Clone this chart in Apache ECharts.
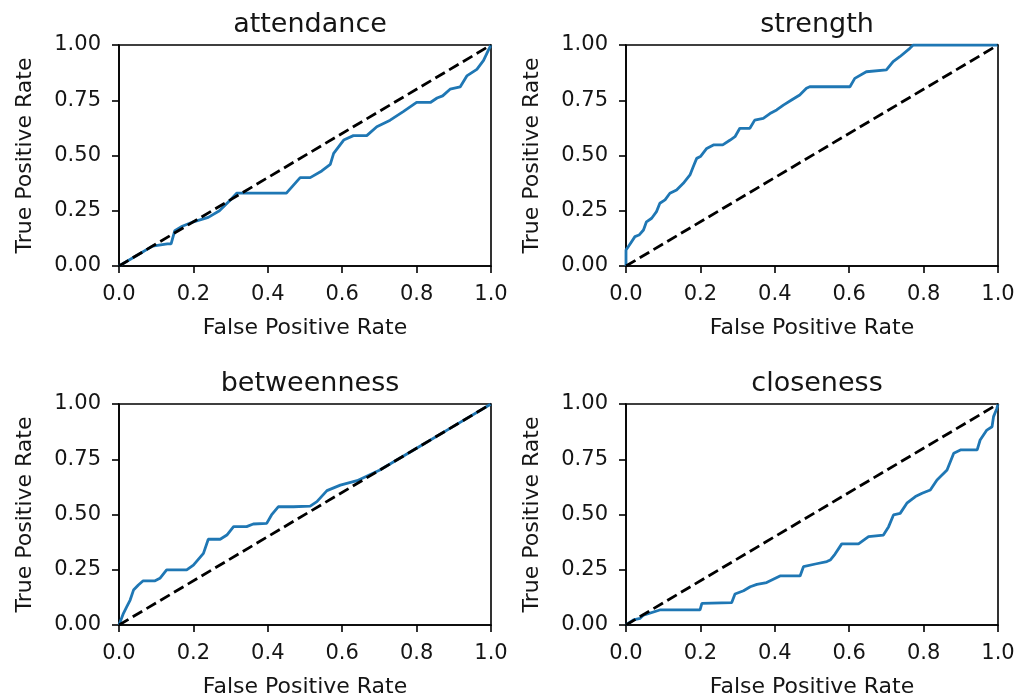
<!DOCTYPE html>
<html>
<head>
<meta charset="utf-8">
<script src="https://cdn.jsdelivr.net/npm/echarts@6/dist/echarts.min.js"></script>
<style>html,body{margin:0;padding:0;background:#fff}#c{width:1018px;height:699px}</style>
</head>
<body>
<div id="c"></div>
<script>
const panelTitles = ['attendance', 'strength', 'betweenness', 'closeness'];
const xTicks = [0, 0.2, 0.4, 0.6, 0.8, 1.0];
const yTicks = [0, 0.25, 0.5, 0.75, 1.0];
const diagX = [0, 1];
const diagY = [0, 1];

const attendanceFpr = [0,0.05,0.09,0.13,0.14,0.15,0.17,0.20,0.24,0.27,0.30,0.317,0.45,0.487,0.514,0.545,0.568,0.577,0.604,0.63,0.666,0.693,0.729,0.765,0.80,0.837,0.855,0.87,0.89,0.917,0.935,0.962,0.98,0.994,1.0];
const attendanceTpr = [0,0.05,0.09,0.10,0.10,0.16,0.18,0.20,0.22,0.25,0.30,0.33,0.33,0.40,0.40,0.43,0.46,0.51,0.57,0.59,0.59,0.63,0.66,0.70,0.74,0.74,0.76,0.77,0.80,0.81,0.86,0.89,0.93,0.98,1.0];

const strengthFpr = [0,0,0.011,0.024,0.035,0.047,0.055,0.069,0.082,0.091,0.105,0.118,0.136,0.154,0.172,0.181,0.19,0.20,0.217,0.235,0.26,0.28,0.293,0.306,0.333,0.346,0.369,0.387,0.405,0.423,0.445,0.467,0.485,0.494,0.602,0.615,0.646,0.70,0.718,0.736,0.763,0.772,0.843,1.0];
const strengthTpr = [0,0.072,0.10,0.133,0.14,0.163,0.20,0.216,0.246,0.284,0.299,0.329,0.344,0.374,0.412,0.45,0.487,0.495,0.532,0.548,0.548,0.57,0.585,0.623,0.623,0.66,0.668,0.69,0.706,0.728,0.751,0.774,0.804,0.811,0.811,0.849,0.879,0.887,0.925,0.947,0.985,1.0,1.0,1.0];

const betweennessFpr = [0,0.012,0.021,0.03,0.039,0.052,0.065,0.097,0.11,0.128,0.182,0.20,0.227,0.24,0.272,0.29,0.308,0.343,0.361,0.397,0.41,0.428,0.469,0.514,0.532,0.559,0.595,0.64,0.70,0.80,0.90,1.0];
const betweennessTpr = [0,0.053,0.083,0.113,0.158,0.181,0.20,0.20,0.211,0.249,0.249,0.271,0.324,0.388,0.388,0.407,0.445,0.445,0.457,0.46,0.498,0.535,0.535,0.538,0.558,0.608,0.633,0.653,0.70,0.80,0.90,1.0];

const closenessFpr = [0,0.02,0.038,0.047,0.091,0.199,0.204,0.284,0.293,0.316,0.334,0.352,0.378,0.396,0.414,0.468,0.477,0.509,0.54,0.549,0.562,0.58,0.625,0.652,0.692,0.706,0.719,0.737,0.755,0.778,0.796,0.818,0.836,0.863,0.881,0.899,0.944,0.952,0.97,0.984,0.988,0.997,1.0];
const closenessTpr = [0,0.023,0.03,0.045,0.068,0.068,0.098,0.101,0.14,0.155,0.173,0.184,0.192,0.207,0.222,0.222,0.264,0.276,0.287,0.294,0.321,0.367,0.367,0.40,0.407,0.445,0.498,0.505,0.551,0.581,0.596,0.611,0.656,0.701,0.777,0.792,0.792,0.837,0.882,0.897,0.943,0.98,1.0];

const curves = [
  [attendanceFpr, attendanceTpr],
  [strengthFpr, strengthTpr],
  [betweennessFpr, betweennessTpr],
  [closenessFpr, closenessTpr]
];

const FONT = 'DejaVu Sans';
const TXT = '#151515';
const lefts = [119, 626, 119, 626];
const tops = [45, 45, 404, 404];
const W = 372, H = 221;

const zip = (a, b) => a.map((v, i) => [v, b[i]]);

const grids = [], xAxes = [], yAxes = [], series = [], titles = [];
for (let i = 0; i < 4; i++) {
  grids.push({left: lefts[i], top: tops[i], width: W, height: H, show: true, borderColor: '#000', borderWidth: 1.6, backgroundColor: '#fff', containLabel: false});
  titles.push({text: panelTitles[i], left: lefts[i] + W / 2, top: tops[i] - 39, textAlign: 'center',
    textStyle: {fontFamily: FONT, fontSize: 27, fontWeight: 'normal', color: TXT}});
  xAxes.push({type: 'value', gridIndex: i, min: 0, max: 1, interval: 0.2,
    name: 'False Positive Rate', nameLocation: 'middle', nameGap: 51,
    nameTextStyle: {fontFamily: FONT, fontSize: 22, color: TXT},
    axisLine: {show: true, onZero: false, lineStyle: {color: '#000', width: 1.6}},
    axisTick: {show: true, inside: false, length: 7, lineStyle: {color: '#000', width: 1.6}},
    axisLabel: {show: true, margin: 18, fontFamily: FONT, fontSize: 21, color: TXT, formatter: v => v.toFixed(1)},
    splitLine: {show: false}});
  yAxes.push({type: 'value', gridIndex: i, min: 0, max: 1, interval: 0.25,
    name: 'True Positive Rate', nameLocation: 'middle', nameGap: 83,
    nameTextStyle: {fontFamily: FONT, fontSize: 22, color: TXT},
    axisLine: {show: true, onZero: false, lineStyle: {color: '#000', width: 1.6}},
    axisTick: {show: true, inside: false, length: 7, lineStyle: {color: '#000', width: 1.6}},
    axisLabel: {show: true, margin: 18, fontFamily: FONT, fontSize: 21, color: TXT, formatter: v => v.toFixed(2)},
    splitLine: {show: false}});
  series.push({type: 'line', xAxisIndex: i, yAxisIndex: i, data: zip(curves[i][0], curves[i][1]),
    showSymbol: false, symbol: 'none', lineStyle: {color: '#1f77b4', width: 2.8}, animation: false, z: 2});
  series.push({type: 'line', xAxisIndex: i, yAxisIndex: i, data: zip(diagX, diagY),
    showSymbol: false, symbol: 'none', lineStyle: {color: '#000', width: 2.8, type: [11, 5]}, animation: false, z: 3});
}

const chart = echarts.init(document.getElementById('c'), null, {renderer: 'canvas'});
chart.setOption({animation: false, backgroundColor: '#fff', title: titles, grid: grids, xAxis: xAxes, yAxis: yAxes, series: series});
</script>
</body>
</html>
